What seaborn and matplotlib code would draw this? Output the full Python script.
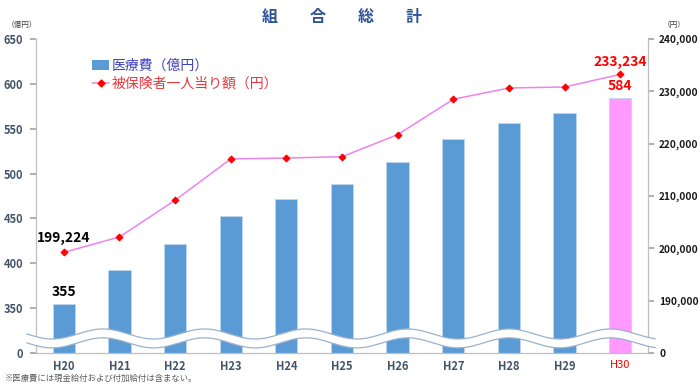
"""組合総計: 医療費 and 被保険者一人当り額, H20-H30."""
import matplotlib

matplotlib.use("Agg")
import matplotlib.pyplot as plt  # noqa: E402
import numpy as np  # noqa: E402
import seaborn as sns  # noqa: E402
from matplotlib.lines import Line2D  # noqa: E402
from matplotlib.patches import Patch, Polygon  # noqa: E402

YEARS = ["H20", "H21", "H22", "H23", "H24", "H25", "H26", "H27", "H28", "H29", "H30"]
MEDICAL = [355, 392, 422, 453, 472, 488, 513, 539, 556, 568, 584]  # 億円
PER_CAPITA = [199224, 202170, 209180, 217070, 217260, 217510,
              221720, 228480, 230640, 230830, 233234]  # 円
LEFT_TICKS = [300, 350, 400, 450, 500, 550, 600, 650]
LEFT_LABELS = ["0", "350", "400", "450", "500", "550", "600", "650"]
RIGHT_TICKS = [180000, 190000, 200000, 210000, 220000, 230000, 240000]
RIGHT_LABELS = ["0", "190,000", "200,000", "210,000", "220,000", "230,000", "240,000"]

BLUE = "#5B9BD5"
PINK = "#FF99FF"
LINE = "#EE82EE"
RED = "#FF0000"
TICK = "#44546A"
FONT = ["Noto Sans CJK JP", "DejaVu Sans"]

sns.set_theme(style="white")
plt.rcParams["font.family"] = FONT

fig = plt.figure(figsize=(7, 3.85), dpi=100)
ax = fig.add_axes([0.0514, 0.0831, 0.8743, 0.8156])

colors = [BLUE] * (len(YEARS) - 1) + [PINK]
sns.barplot(x=YEARS, y=MEDICAL, hue=YEARS, palette=colors, legend=False,
            width=0.4, saturation=1, ax=ax, edgecolor="#BDD7EE", linewidth=0.6)
ax.set_ylim(300, 650)
ax.set_xlim(-0.5, len(YEARS) - 0.5)
ax.set_yticks(LEFT_TICKS)
ax.set_yticklabels(LEFT_LABELS)

ax2 = ax.twinx()
sns.lineplot(x=YEARS, y=PER_CAPITA, ax=ax2, color=LINE, linewidth=1.1,
             marker="D", markersize=3.5, markerfacecolor=RED, markeredgecolor=RED,
             sort=False)
ax2.set_ylim(180000, 240000)
ax2.set_yticks(RIGHT_TICKS)
ax2.set_yticklabels(RIGHT_LABELS)
ax2.set_xlim(-0.5, len(YEARS) - 0.5)

for a in (ax, ax2):
    a.set_xlabel("")
    a.set_ylabel("")
    a.spines["top"].set_visible(False)
    for side in ("left", "right", "bottom"):
        a.spines[side].set_color("#BFBFBF")
        a.spines[side].set_linewidth(0.9)
ax.spines["right"].set_visible(False)
ax2.spines["left"].set_visible(False)
ax2.spines["bottom"].set_visible(False)

ax.tick_params(axis="y", direction="out", length=4, color="#A6A6A6", pad=5,
               labelsize=8, labelcolor=TICK)
for lab in ax.get_yticklabels():
    lab.set_fontweight("bold")
ax2.tick_params(axis="y", direction="out", length=4, color="#A6A6A6", pad=4,
                labelsize=7.3, labelcolor="#1A1A1A")
for lab in ax2.get_yticklabels():
    lab.set_fontweight("bold")

# x: labels at categories, small tick marks at the boundaries
ax.set_xticks(np.arange(len(YEARS)))
ax.set_xticklabels(YEARS)
ax.set_xticks(np.arange(len(YEARS) + 1) - 0.5, minor=True)
ax.tick_params(axis="x", which="major", length=0, pad=5, labelsize=8, labelcolor=TICK)
ax.tick_params(axis="x", which="minor", length=4, color="#BFBFBF", direction="out")
for lab in ax.get_xticklabels():
    lab.set_fontweight("bold")
last = ax.get_xticklabels()[-1]
last.set_color(RED)
last.set_fontweight("normal")

# value labels on first and last year
ax.annotate(f"{MEDICAL[0]}", (0, MEDICAL[0]), xytext=(0, 3), textcoords="offset points",
            ha="center", va="bottom", fontsize=10, fontweight="bold", color="black")
ax.annotate(f"{MEDICAL[-1]}", (len(YEARS) - 1, MEDICAL[-1]), xytext=(0, 4),
            textcoords="offset points", ha="center", va="bottom", fontsize=10,
            fontweight="bold", color=RED)
ax2.annotate(f"{PER_CAPITA[0]:,}", (0, PER_CAPITA[0]), xytext=(0, 5),
             textcoords="offset points", ha="center", va="bottom", fontsize=10,
             fontweight="bold", color="black")
ax2.annotate(f"{PER_CAPITA[-1]:,}", (len(YEARS) - 1, PER_CAPITA[-1]), xytext=(0, 4),
             textcoords="offset points", ha="center", va="bottom", fontsize=10,
             fontweight="bold", color=RED)

# wavy axis-break band, in axes fractions
xs = np.linspace(-0.015, 1.012, 400)
phase = xs * 612 / 101.5 * 2 * np.pi - (103 - 36) / 101.5 * 2 * np.pi + np.pi / 2
wave = np.sin(phase) * 5.6 / 350
upper = 21.2 / 350 + wave
lower = 11.3 / 350 + wave
band = np.concatenate([np.column_stack([xs, upper]), np.column_stack([xs[::-1], lower[::-1]])])
fig.add_artist(Polygon(band, closed=True, facecolor="white", edgecolor="none",
                       transform=ax.transAxes, zorder=5))
for ys in (upper, lower):
    fig.add_artist(Line2D(xs, ys, color="#9AB2CC", linewidth=0.9,
                          transform=ax.transAxes, zorder=6))

# legend
handles = [Patch(facecolor=BLUE, edgecolor="none"),
           Line2D([], [], color=LINE, marker="D", markersize=3.5,
                  markerfacecolor=RED, markeredgecolor=RED, linewidth=1.1)]
ax.legend(handles, ["医療費（億円）", "被保険者一人当り額（円）"],
          labelcolor=["#4040C0", "#E8383D"], loc="upper left",
          bbox_to_anchor=(0.122, 0.866), bbox_transform=fig.transFigure,
          frameon=False, fontsize=10, handlelength=1.2, handletextpad=0.2,
          labelspacing=0.3, borderpad=0)

fig.text(0.489, 0.956, "組　　合　　総　　計", ha="center", va="center",
         fontsize=11.5, fontweight="bold", color="#2F5597")
fig.text(0.01, 0.935, "（億円）", ha="left", va="center", fontsize=5.5, color="#404040")
fig.text(0.947, 0.935, "（円）", ha="left", va="center", fontsize=5.5, color="#404040")
fig.text(0.007, 0.016, "※医療費には現金給付および付加給付は含まない。", ha="left",
         va="center", fontsize=6, color="#595959")

fig.savefig("out.png", dpi=100)
